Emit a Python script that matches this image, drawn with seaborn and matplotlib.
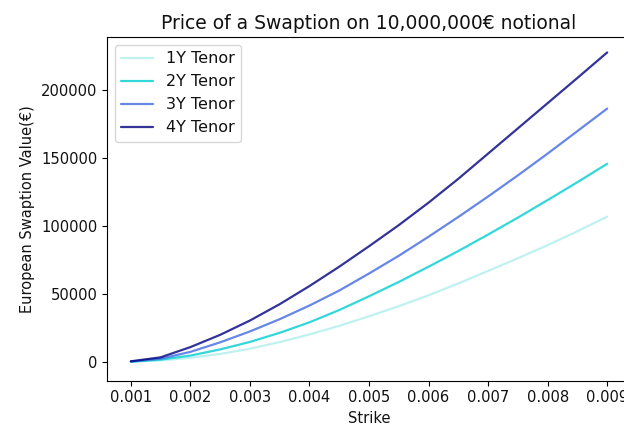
import matplotlib
matplotlib.use("Agg")
import matplotlib.pyplot as plt
import seaborn as sns
import pandas as pd

strikes = [0.001, 0.0015, 0.002, 0.0025, 0.003, 0.0035, 0.004, 0.0045, 0.005,
           0.0055, 0.006, 0.0065, 0.007, 0.0075, 0.008, 0.0085, 0.009]
tenor_1y = [200, 1200, 3200, 6000, 9800, 14700, 20300, 26600, 33600,
            41000, 49000, 57700, 66900, 76200, 85800, 96000, 106700]
tenor_2y = [300, 1800, 4800, 9300, 14800, 21500, 29200, 38200, 48300,
            58800, 70000, 81500, 93600, 106000, 118900, 132000, 145500]
tenor_3y = [400, 2500, 7500, 14500, 22500, 31500, 41500, 52500, 65000,
            78000, 92000, 106500, 121500, 137000, 153000, 169500, 186000]
tenor_4y = [600, 3500, 11000, 20000, 30500, 42500, 55800, 70000, 85000,
            100500, 117000, 134500, 153000, 171500, 190000, 208500, 227200]
labels = ["1Y Tenor", "2Y Tenor", "3Y Tenor", "4Y Tenor"]
colors = ["paleturquoise", "darkturquoise", "royalblue", "navy"]

rows = []
for lab, vals in zip(labels, [tenor_1y, tenor_2y, tenor_3y, tenor_4y]):
    for s, v in zip(strikes, vals):
        rows.append({"Strike": s, "Value": v, "Tenor": lab})
df = pd.DataFrame(rows)

sns.set_style("ticks")
plt.rcParams['font.family'] = ['DejaVu Sans']
plt.rcParams['text.color'] = '#111111'
plt.rcParams['axes.labelcolor'] = '#111111'
plt.rcParams['xtick.color'] = '#111111'
plt.rcParams['ytick.color'] = '#111111'

fig = plt.figure(figsize=(6.24, 4.26), dpi=100)
ax = fig.add_axes([0.1715, 0.1068, 0.8397, 0.8062])
sns.lineplot(data=df, x="Strike", y="Value", hue="Tenor", hue_order=labels,
             palette=colors, alpha=0.8, linewidth=1.6, ax=ax)
ax.set_xlim(0.0006, 0.0094)
ax.set_ylim(-13500, 238500)
ax.set_xticks([0.001, 0.002, 0.003, 0.004, 0.005, 0.006, 0.007, 0.008, 0.009])
ax.set_xticklabels(["0.001", "0.002", "0.003", "0.004", "0.005", "0.006", "0.007", "0.008", "0.009"])
ax.set_yticks([0, 50000, 100000, 150000, 200000])
ax.set_yticklabels(["0", "50000", "100000", "150000", "200000"])
ax.tick_params(labelsize=10.6, direction="out", length=3.5, width=0.8, color="black")
for sp in ax.spines.values():
    sp.set_color("black")
    sp.set_linewidth(0.8)
ax.set_xlabel("Strike", fontsize=10.5)
ax.set_ylabel("European Swaption Value(€)", fontsize=10.5)
ax.set_title("Price of a Swaption on 10,000,000€ notional", fontsize=13.5)
handles, labs = ax.get_legend_handles_labels()
ax.legend(handles=handles, labels=labs, loc="upper left", fontsize=11.5, frameon=True)
fig.savefig("out.png", dpi=100)
